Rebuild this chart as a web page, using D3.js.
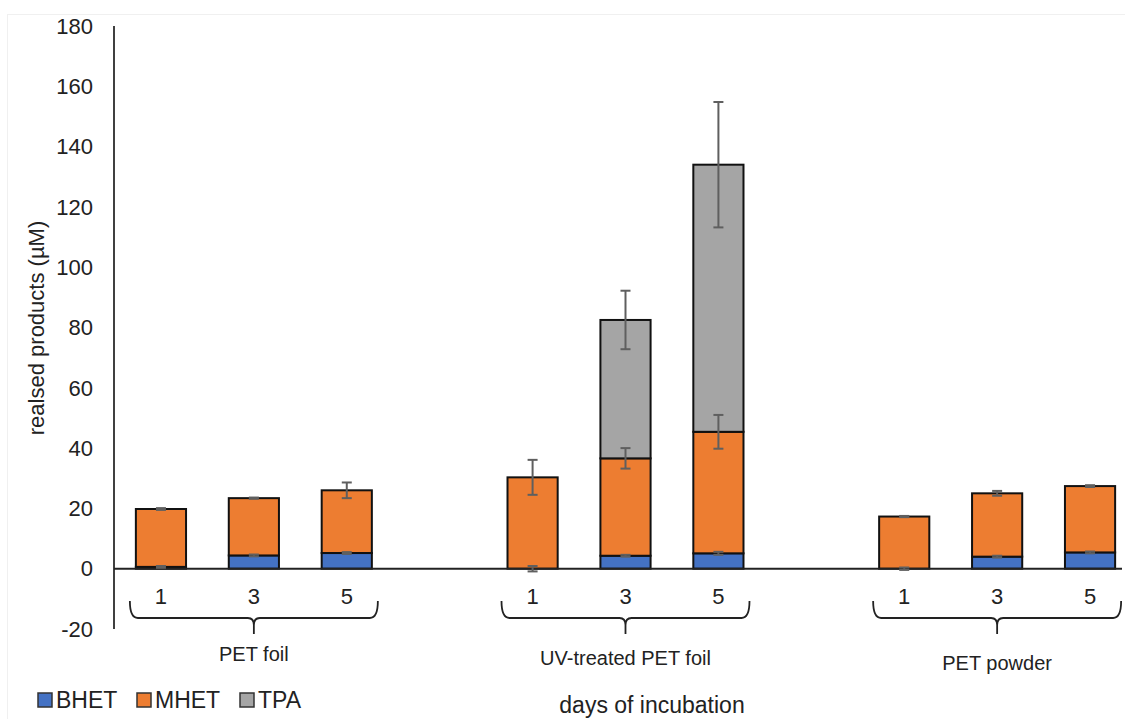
<!DOCTYPE html>
<html><head><meta charset="utf-8">
<script src="https://cdn.jsdelivr.net/npm/d3@7"></script>
<style>body{margin:0;background:#fff}text{font-family:"Liberation Sans",Arial,sans-serif}</style>
</head><body><svg id="c" width="1125" height="719"></svg>
<script>
const groups = ["PET foil", "UV-treated PET foil", "PET powder"];
const days = ["1", "3", "5"];
const series = ["BHET", "MHET", "TPA"];
const colors = ["#4472C4", "#ED7D31", "#A5A5A5"];
// values per group, per day
const BHET = [[0.6, 4.4, 5.2], [0.0, 4.3, 5.1], [0.0, 4.0, 5.4]];
const MHET = [[19.2, 19.0, 20.8], [30.3, 32.3, 40.3], [17.3, 21.0, 22.0]];
const TPA  = [[0, 0, 0], [0, 45.9, 88.6], [0, 0, 0]];
const BHET_err = [[0.3, 0.3, 0.3], [0.9, 0.3, 0.5], [0.4, 0.3, 0.3]];
const MHET_err = [[0.3, 0.2, 2.6], [5.8, 3.4, 5.6], [0.2, 0.8, 0.3]];
const TPA_err  = [[0, 0, 0], [0, 9.7, 20.8], [0, 0, 0]];
const yTicks = [-20, 0, 20, 40, 60, 80, 100, 120, 140, 160, 180];

const svg = d3.select("#c");
svg.append("rect").attr("x", 7.5).attr("y", 14.5).attr("width", 1130).attr("height", 720)
  .attr("fill", "none").attr("stroke", "#f0f0f0");

const slots = [];
groups.forEach((g, gi) => {
  days.forEach(d => slots.push(g + "|" + d));
  if (gi < groups.length - 1) slots.push("gap" + gi);
});
const x = d3.scaleBand().domain(slots).range([114.5, 1136.5]).paddingInner(0.46).paddingOuter(0.23);
const y = d3.scaleLinear().domain([-20, 180]).range([629, 26]);

// y axis
svg.append("line").attr("x1", 114).attr("x2", 114).attr("y1", y(180)).attr("y2", y(-20))
  .attr("stroke", "#404040").attr("stroke-width", 2);
svg.selectAll(".yt").data(yTicks).enter().append("text")
  .attr("x", 93).attr("y", d => y(d)).attr("dy", "0.35em").attr("text-anchor", "end")
  .attr("font-size", 22).attr("fill", "#222").text(d => d);
svg.append("text").attr("transform", `translate(44,328) rotate(-90)`)
  .attr("text-anchor", "middle").attr("font-size", 22).attr("fill", "#222").text("realsed products (µM)");

// bars
const errs = [BHET_err, MHET_err, TPA_err];
const vals = [BHET, MHET, TPA];
groups.forEach((g, gi) => {
  days.forEach((d, di) => {
    const key = g + "|" + d;
    let base = 0;
    series.forEach((s, si) => {
      const v = vals[si][gi][di];
      if (v > 0) {
        svg.append("rect").attr("x", x(key)).attr("width", x.bandwidth())
          .attr("y", y(base + v)).attr("height", y(base) - y(base + v))
          .attr("fill", colors[si]).attr("stroke", "#111").attr("stroke-width", 2);
      }
      base += v;
    });
  });
});
// zero line
svg.append("line").attr("x1", 114).attr("x2", 1122).attr("y1", y(0)).attr("y2", y(0))
  .attr("stroke", "#222").attr("stroke-width", 2);
// error bars
groups.forEach((g, gi) => {
  days.forEach((d, di) => {
    const key = g + "|" + d;
    const cx = x(key) + x.bandwidth() / 2;
    let base = 0;
    series.forEach((s, si) => {
      const v = vals[si][gi][di];
      base += v;
      const e = errs[si][gi][di];
      if (e > 0 && (v > 0 || si === 0)) {
        const gEl = svg.append("g").attr("stroke", "#5f5f5f").attr("stroke-width", 2);
        gEl.append("line").attr("x1", cx).attr("x2", cx).attr("y1", y(base + e)).attr("y2", y(base - e));
        [base + e, base - e].forEach(t => gEl.append("line").attr("x1", cx - 5).attr("x2", cx + 5).attr("y1", y(t)).attr("y2", y(t)));
      }
    });
  });
});

// category labels and braces
groups.forEach((g, gi) => {
  days.forEach(d => {
    svg.append("text").attr("x", x(g + "|" + d) + x.bandwidth() / 2).attr("y", 596).attr("dy", "0.35em")
      .attr("text-anchor", "middle").attr("font-size", 22).attr("fill", "#222").text(d);
  });
  const x0 = x(g + "|" + days[0]) - 6;
  const x1 = x(g + "|" + days[days.length - 1]) + x.bandwidth() + 6;
  const xm = (x0 + x1) / 2;
  const yt = 601, yb = 618, ytip = 634;
  const p = `M${x0},${yt} Q${x0},${yb} ${x0 + 8},${yb} L${xm - 6},${yb} Q${xm},${yb} ${xm},${yb + 7} L${xm},${ytip} M${xm},${yb + 7} Q${xm},${yb} ${xm + 6},${yb} L${x1 - 8},${yb} Q${x1},${yb} ${x1},${yt}`;
  svg.append("path").attr("d", p).attr("fill", "none").attr("stroke", "#222").attr("stroke-width", 1.8);
  svg.append("text").attr("x", xm).attr("y", [654, 658, 663][gi]).attr("dy", "0.35em")
    .attr("text-anchor", "middle").attr("font-size", 20).attr("fill", "#222").text(g);
});

svg.append("text").attr("x", 652).attr("y", 713).attr("text-anchor", "middle")
  .attr("font-size", 23).attr("fill", "#222").text("days of incubation");

// legend
const lx = [38, 137, 240];
series.forEach((s, i) => {
  svg.append("rect").attr("x", lx[i]).attr("y", 693).attr("width", 14).attr("height", 14)
    .attr("fill", colors[i]).attr("stroke", "#333").attr("stroke-width", 1.5);
  svg.append("text").attr("x", lx[i] + 18).attr("y", 700).attr("dy", "0.35em")
    .attr("font-size", 23).attr("fill", "#222").text(s);
});
</script></body></html>
